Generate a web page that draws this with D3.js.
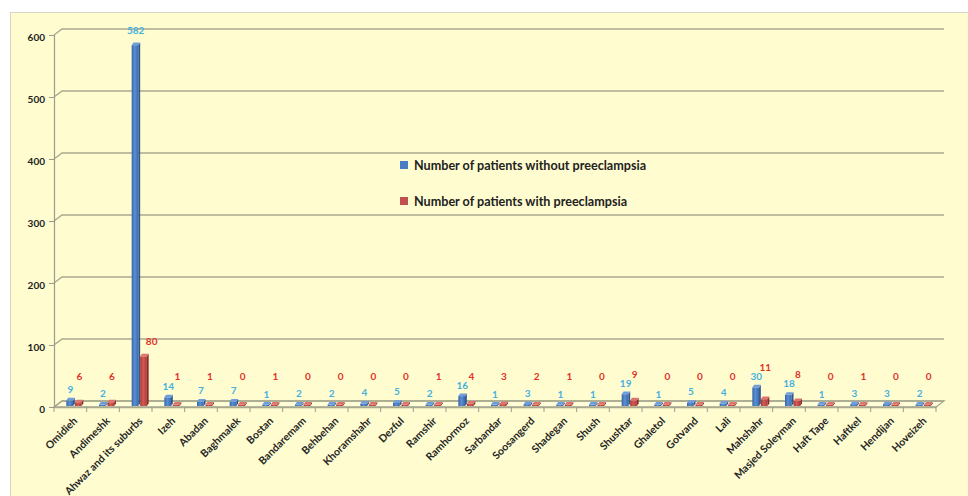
<!DOCTYPE html>
<html>
<head>
<meta charset="utf-8">
<script src="https://cdn.jsdelivr.net/npm/d3@7"></script>
<style>
  html, body { margin: 0; padding: 0; background: #ffffff; }
  svg { display: block; }
  text { font-family: Lato, "Open Sans", sans-serif; font-weight: bold; }
</style>
</head>
<body>
<svg id="chart" width="968" height="496"></svg>
<script>
// Cities of Khuzestan and patient counts
const categories = ["Omidieh", "Andimeshk", "Ahwaz and its suburbs", "Izeh", "Abadan", "Baghmalek", "Bostan",
  "Bandaremam", "Behbehan", "Khoramshahr", "Dezful", "Ramshir", "Ramhormoz", "Sarbandar", "Soosangerd",
  "Shadegan", "Shush", "Shushtar", "Ghaletol", "Gotvand", "Lali", "Mahshahr", "Masjed Soleyman",
  "Haft Tape", "Haftkel", "Hendijan", "Hoveizeh"];
const withoutPreeclampsia = [9, 2, 582, 14, 7, 7, 1, 2, 2, 4, 5, 2, 16, 1, 3, 1, 1, 19, 1, 5, 4, 30, 18, 1, 3, 3, 2];
const withPreeclampsia = [6, 6, 80, 1, 1, 0, 1, 0, 0, 0, 0, 1, 4, 3, 2, 1, 0, 9, 0, 0, 0, 11, 8, 0, 1, 0, 0];
const seriesNames = ["Number of patients without preeclampsia", "Number of patients with preeclampsia"];
const yTicks = [0, 100, 200, 300, 400, 500, 600];

const svg = d3.select("#chart");

// chart panel
svg.append("rect").attr("x", 10.5).attr("y", 12.5).attr("width", 970).attr("height", 500)
  .attr("fill", "#fffdd0").attr("stroke", "#d6d6c4");

const left = 54, right = 936, depthX = 8, depthY = -6;
const x = d3.scaleBand().domain(categories).range([left, right]);
const y = d3.scaleLinear().domain([0, 600]).range([407, 35]);
const sub = d3.scaleBand().domain([0, 1]).range([-4, 13]);

// gradients for shaded bars
const defs = svg.append("defs");
function grad(id, stops) {
  const g = defs.append("linearGradient").attr("id", id).attr("x1", "0").attr("x2", "1").attr("y1", "0").attr("y2", "0");
  stops.forEach(([o, c]) => g.append("stop").attr("offset", o).attr("stop-color", c));
}
grad("gBlue", [[0, "#3565a8"], [0.45, "#5b8fd2"], [1, "#3a6aae"]]);
grad("gRed", [[0, "#a83835"], [0.45, "#d35a55"], [1, "#ad3b38"]]);

const gridColor = "#a9a98f";

// floor
const floor = svg.append("g");
floor.append("path")
  .attr("d", `M${left},${y(0)} L${left + depthX},${y(0) + depthY} L${right + depthX},${y(0) + depthY} L${right},${y(0)} Z`)
  .attr("fill", "#fffed8").attr("stroke", gridColor).attr("stroke-width", 1.3);

// gridlines with the 3D wall offset
const grid = svg.append("g");
yTicks.forEach(t => {
  grid.append("path")
    .attr("d", `M${left},${y(t)} L${left + depthX},${y(t) + depthY} L${right + depthX},${y(t) + depthY}`)
    .attr("fill", "none").attr("stroke", gridColor).attr("stroke-width", 1.4);
});

// y axis
const yAxis = svg.append("g").attr("transform", `translate(${left},0)`)
  .call(d3.axisLeft(y).tickValues(yTicks).tickSize(5).tickPadding(4));
yAxis.select(".domain").attr("stroke", "#9a9a90").attr("stroke-width", 1.2);
yAxis.selectAll(".tick line").attr("stroke", "#9a9a90");
yAxis.selectAll(".tick text").attr("fill", "#222").attr("font-size", "10px").attr("dy", "0.55em");

// x axis
const xAxis = svg.append("g").attr("transform", `translate(0,${y(0)})`)
  .call(d3.axisBottom(x).tickSize(0).tickFormat(""));
xAxis.select(".domain").attr("stroke", gridColor).attr("stroke-width", 1.3);
const bounds = categories.map(c => x(c)).concat([right]);
xAxis.selectAll("line.sep").data(bounds).join("line").attr("class", "sep")
  .attr("x1", d => d).attr("x2", d => d).attr("y1", 0).attr("y2", 5)
  .attr("stroke", "#9a9a90");

svg.append("g").selectAll("text").data(categories).join("text")
  .attr("transform", d => `translate(${x(d) + x.bandwidth() / 2 + 5},${y(0) + 12}) rotate(-45)`)
  .attr("text-anchor", "end").attr("dy", "0.35em")
  .attr("font-size", "10.5px").attr("fill", "#262626")
  .text(d => d);

// bars
const rows = categories.map((c, i) => [
  { c, s: 0, v: withoutPreeclampsia[i] },
  { c, s: 1, v: withPreeclampsia[i] }
]).flat();

const bw = sub.bandwidth();
const fw = bw - 1.8, bdx = 1.8, bdy = -2.6, base = y(0) - 1;
const bars = svg.append("g").selectAll("g").data(rows).join("g");
bars.each(function (d) {
  const g = d3.select(this);
  const x0 = x(d.c) + x.bandwidth() / 2 + sub(d.s);
  const yt = Math.min(y(d.v) - 1, base - 1.5);
  const fill = d.s === 0 ? "url(#gBlue)" : "url(#gRed)";
  const side = d.s === 0 ? "#2c5591" : "#8c2c2a";
  const top = d.s === 0 ? "#6f9ddb" : "#de7470";
  g.append("rect").attr("x", x0).attr("y", yt).attr("width", fw).attr("height", base - yt).attr("fill", fill);
  g.append("path")
    .attr("d", `M${x0 + fw},${yt} L${x0 + fw + bdx},${yt + bdy} L${x0 + fw + bdx},${base + bdy} L${x0 + fw},${base} Z`)
    .attr("fill", side);
  g.append("path")
    .attr("d", `M${x0},${yt} L${x0 + bdx},${yt + bdy} L${x0 + fw + bdx},${yt + bdy} L${x0 + fw},${yt} Z`)
    .attr("fill", top);
});

// value labels: blue sits just above its bar, red floats above the pair
const blueLabelY = v => y(v) - 12 - (v > 100 ? 4 : 0);
const labelY = d => {
  if (d.s === 0) return blueLabelY(d.v);
  const blueV = withoutPreeclampsia[categories.indexOf(d.c)];
  const own = Math.min(y(d.v) - 16, 376);
  return blueV < 100 ? Math.min(own, blueLabelY(blueV) - 9) : own;
};
svg.append("g").selectAll("text").data(rows).join("text")
  .attr("x", d => x(d.c) + x.bandwidth() / 2 + (d.s === 0 ? 0 : (d.v > 50 ? 16 : 9)))
  .attr("y", labelY)
  .attr("dy", "0.35em").attr("text-anchor", "middle")
  .attr("font-size", "10px")
  .attr("fill", d => d.s === 0 ? "#45b0e0" : "#e3302b")
  .text(d => d.v);

// legend
const legend = svg.append("g").selectAll("g").data(seriesNames).join("g")
  .attr("transform", (d, i) => `translate(400,${165 + i * 36})`);
legend.append("rect").attr("x", 0).attr("y", -4).attr("width", 8).attr("height", 8)
  .attr("fill", (d, i) => i === 0 ? "#4a7ec4" : "#c0504d");
legend.append("text").attr("x", 14).attr("y", 0).attr("dy", "0.36em")
  .attr("font-size", "12.6px").attr("fill", "#222")
  .text(d => d);
</script>
</body>
</html>
